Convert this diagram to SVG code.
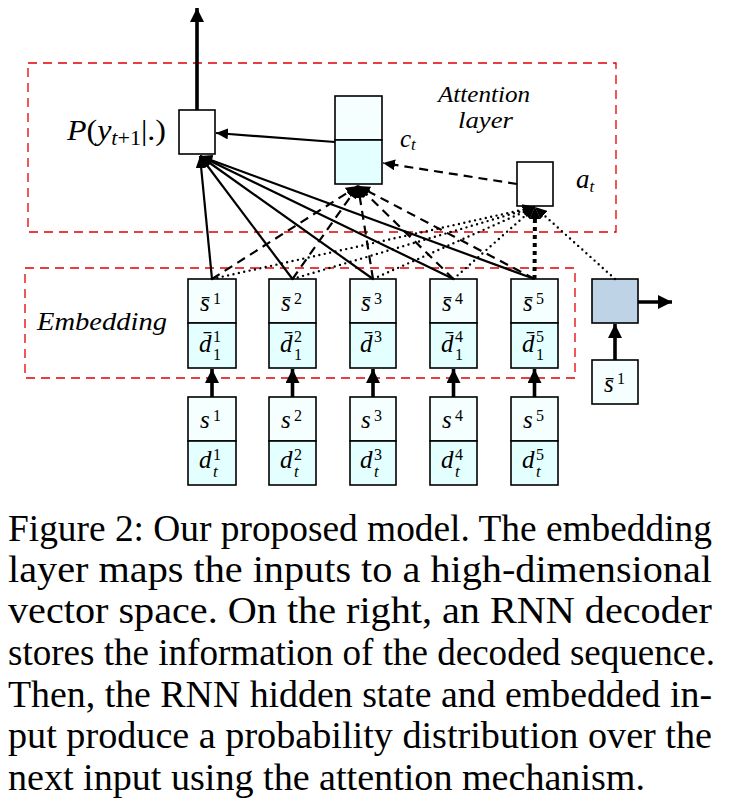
<svg xmlns="http://www.w3.org/2000/svg" width="743" height="802" viewBox="0 0 743 802">
<style>
.bg{fill:#fff}
.red{fill:none;stroke:#e00000;stroke-width:1.3;stroke-dasharray:9 6}
.top{fill:#f6ffff;stroke:#000;stroke-width:1.6}
.bot{fill:#e4ffff;stroke:#000;stroke-width:1.6}
.wht{fill:#fff;stroke:#000;stroke-width:1.6}
.dec{fill:#bfd3e6;stroke:#000;stroke-width:1.6}
.m{font-family:"Liberation Serif","DejaVu Serif",serif;font-style:italic;font-size:25px;fill:#000}
.n{font-family:"Liberation Serif","DejaVu Serif",serif;font-style:normal;font-size:16px;fill:#000}
.ns{font-family:"Liberation Serif","DejaVu Serif",serif;font-style:italic;font-size:17px;fill:#000}
.cap{font-family:"Liberation Serif","Times New Roman",serif;font-size:38px;fill:#000}
.sol{stroke:#000;stroke-width:2.2;fill:none}
.das{stroke:#000;stroke-width:2.2;fill:none;stroke-dasharray:9 6}
.dot{stroke:#000;stroke-width:2.4;fill:none;stroke-dasharray:0 5.5;stroke-linecap:round}
.thk{stroke:#000;stroke-width:3.6;fill:none}
</style>
<defs>
<marker id="ah" markerUnits="userSpaceOnUse" markerWidth="13" markerHeight="11" refX="12" refY="5.5" orient="auto"><path d="M0,0 L12,5.5 L0,11 z" fill="#000"/></marker>
<marker id="ahb" markerUnits="userSpaceOnUse" markerWidth="15" markerHeight="14" refX="14" refY="7" orient="auto"><path d="M0,0 L14,7 L0,14 z" fill="#000"/></marker>
</defs>
<rect class="bg" x="0" y="0" width="743" height="802"/>

<g id="attention-layer">
<rect class="red" x="28" y="63" width="588" height="169"/>
<text class="m" x="438" y="102" style="font-size:24px" textLength="92" lengthAdjust="spacingAndGlyphs">Attention</text>
<text class="m" x="458" y="128" style="font-size:24px" textLength="55" lengthAdjust="spacingAndGlyphs">layer</text>
</g>
<g id="embedding-layer">
<rect class="red" x="25" y="268" width="550" height="110"/>
<text class="m" x="37" y="330" style="font-size:26px" textLength="130" lengthAdjust="spacingAndGlyphs">Embedding</text>
</g>

<g id="output-P">
<rect class="wht" x="179" y="110" width="36" height="44"/>
<text class="m" x="67" y="140" style="font-size:29px" textLength="99" lengthAdjust="spacingAndGlyphs">P<tspan style="font-style:normal">(</tspan>y<tspan style="font-size:20px" dy="5">t</tspan><tspan style="font-size:20px;font-style:normal">+1</tspan><tspan dy="-5" style="font-style:normal">|.)</tspan></text>
</g>

<g id="context-ct">
<rect class="top" x="335" y="96" width="47" height="44"/>
<rect class="bot" x="335" y="140" width="47" height="44"/>
<text class="m" x="400" y="147">c<tspan class="ns" dy="3">t</tspan></text>
</g>

<g id="attention-at">
<rect class="wht" x="517" y="162" width="36" height="44"/>
<text class="m" x="576" y="188" style="font-size:27px">a<tspan class="ns" dy="4">t</tspan></text>
</g>

<g id="emb1">
<rect class="top" x="188" y="279" width="48" height="44"/><rect class="bot" x="188" y="323" width="48" height="45"/>
<text class="m" x="200" y="311">s&#x304;</text><text class="n" x="213" y="304">1</text>
<text class="m" x="199" y="352">d&#x304;</text><text class="n" x="213" y="342">1</text><text class="n" x="213" y="360">1</text>
</g>
<g id="emb2">
<rect class="top" x="269" y="279" width="47" height="44"/><rect class="bot" x="269" y="323" width="47" height="45"/>
<text class="m" x="281" y="311">s&#x304;</text><text class="n" x="294" y="304">2</text>
<text class="m" x="280" y="352">d&#x304;</text><text class="n" x="294" y="342">2</text><text class="n" x="294" y="360">1</text>
</g>
<g id="emb3">
<rect class="top" x="350" y="279" width="46" height="44"/><rect class="bot" x="350" y="323" width="46" height="45"/>
<text class="m" x="361" y="311">s&#x304;</text><text class="n" x="374" y="304">3</text>
<text class="m" x="360" y="352">d&#x304;</text><text class="n" x="374" y="342">3</text>
</g>
<g id="emb4">
<rect class="top" x="430" y="279" width="47" height="44"/><rect class="bot" x="430" y="323" width="47" height="45"/>
<text class="m" x="442" y="311">s&#x304;</text><text class="n" x="455" y="304">4</text>
<text class="m" x="441" y="352">d&#x304;</text><text class="n" x="455" y="342">4</text><text class="n" x="455" y="360">1</text>
</g>
<g id="emb5">
<rect class="top" x="511" y="279" width="47" height="44"/><rect class="bot" x="511" y="323" width="47" height="45"/>
<text class="m" x="523" y="311">s&#x304;</text><text class="n" x="536" y="304">5</text>
<text class="m" x="522" y="352">d&#x304;</text><text class="n" x="536" y="342">5</text><text class="n" x="536" y="360">1</text>
</g>

<g id="in1">
<rect class="top" x="188" y="397" width="48" height="44"/><rect class="bot" x="188" y="441" width="48" height="44"/>
<text class="m" x="200" y="428">s</text><text class="n" x="213" y="421">1</text>
<text class="m" x="199" y="468">d</text><text class="n" x="213" y="460">1</text><text class="ns" x="213" y="477">t</text>
</g>
<g id="in2">
<rect class="top" x="269" y="397" width="47" height="44"/><rect class="bot" x="269" y="441" width="47" height="44"/>
<text class="m" x="281" y="428">s</text><text class="n" x="294" y="421">2</text>
<text class="m" x="280" y="468">d</text><text class="n" x="294" y="460">2</text><text class="ns" x="294" y="477">t</text>
</g>
<g id="in3">
<rect class="top" x="350" y="397" width="46" height="44"/><rect class="bot" x="350" y="441" width="46" height="44"/>
<text class="m" x="361" y="428">s</text><text class="n" x="374" y="421">3</text>
<text class="m" x="360" y="468">d</text><text class="n" x="374" y="460">3</text><text class="ns" x="374" y="477">t</text>
</g>
<g id="in4">
<rect class="top" x="430" y="397" width="47" height="44"/><rect class="bot" x="430" y="441" width="47" height="44"/>
<text class="m" x="442" y="428">s</text><text class="n" x="455" y="421">4</text>
<text class="m" x="441" y="468">d</text><text class="n" x="455" y="460">4</text><text class="ns" x="455" y="477">t</text>
</g>
<g id="in5">
<rect class="top" x="511" y="397" width="47" height="44"/><rect class="bot" x="511" y="441" width="47" height="44"/>
<text class="m" x="523" y="428">s</text><text class="n" x="536" y="421">5</text>
<text class="m" x="522" y="468">d</text><text class="n" x="536" y="460">5</text><text class="ns" x="536" y="477">t</text>
</g>

<g id="decoder">
<rect class="dec" x="592" y="279" width="46" height="44"/>
</g>
<g id="decoder-input">
<rect class="top" x="592" y="360" width="46" height="44"/>
<text class="m" x="604" y="392">s&#x304;</text><text class="n" x="617" y="384">1</text>
</g>

<g id="connectors">
<line class="thk" x1="197" y1="110" x2="197" y2="8" marker-end="url(#ahb)"/>
<line class="sol" x1="335" y1="142" x2="216" y2="133" marker-end="url(#ah)"/>
<line class="das" x1="517" y1="184" x2="383" y2="163" marker-end="url(#ah)"/>
<line class="sol" x1="212" y1="279" x2="200" y2="156" marker-end="url(#ah)"/>
<line class="sol" x1="292.5" y1="279" x2="200" y2="156" marker-end="url(#ah)"/>
<line class="sol" x1="373" y1="279" x2="200" y2="156" marker-end="url(#ah)"/>
<line class="sol" x1="453.5" y1="279" x2="200" y2="156" marker-end="url(#ah)"/>
<line class="sol" x1="534.5" y1="279" x2="200" y2="156" marker-end="url(#ah)"/>
<line class="das" x1="212" y1="279" x2="358" y2="186" marker-end="url(#ah)"/>
<line class="das" x1="292.5" y1="279" x2="358" y2="186" marker-end="url(#ah)"/>
<line class="das" x1="373" y1="279" x2="358" y2="186" marker-end="url(#ah)"/>
<line class="das" x1="453.5" y1="279" x2="358" y2="186" marker-end="url(#ah)"/>
<line class="das" x1="534.5" y1="279" x2="358" y2="186" marker-end="url(#ah)"/>
<line class="dot" x1="212" y1="279" x2="535" y2="207" marker-end="url(#ah)"/>
<line class="dot" x1="292.5" y1="279" x2="535" y2="207" marker-end="url(#ah)"/>
<line class="dot" x1="373" y1="279" x2="535" y2="207" marker-end="url(#ah)"/>
<line class="dot" x1="453.5" y1="279" x2="535" y2="207" marker-end="url(#ah)"/>
<line x1="534.5" y1="279" x2="535" y2="207" stroke="#000" stroke-width="4" stroke-dasharray="4 4" marker-end="url(#ah)"/>
<line class="dot" x1="615" y1="279" x2="535" y2="207" marker-end="url(#ah)"/>
<line class="thk" x1="212" y1="397" x2="212" y2="369" marker-end="url(#ahb)"/>
<line class="thk" x1="292.5" y1="397" x2="292.5" y2="369" marker-end="url(#ahb)"/>
<line class="thk" x1="373" y1="397" x2="373" y2="369" marker-end="url(#ahb)"/>
<line class="thk" x1="453.5" y1="397" x2="453.5" y2="369" marker-end="url(#ahb)"/>
<line class="thk" x1="534.5" y1="397" x2="534.5" y2="369" marker-end="url(#ahb)"/>
<line class="thk" x1="615" y1="360" x2="615" y2="324" marker-end="url(#ahb)"/>
<line class="thk" x1="638" y1="302" x2="672" y2="302" marker-end="url(#ahb)"/>
</g>

<g id="caption">
<text class="cap" x="8" y="541" textLength="704" lengthAdjust="spacingAndGlyphs">Figure 2: Our proposed model. The embedding</text>
<text class="cap" x="8" y="582" textLength="704" lengthAdjust="spacingAndGlyphs">layer maps the inputs to a high-dimensional</text>
<text class="cap" x="8" y="623" textLength="704" lengthAdjust="spacingAndGlyphs">vector space.  On the right, an RNN decoder</text>
<text class="cap" x="8" y="665" textLength="707" lengthAdjust="spacingAndGlyphs">stores the information of the decoded sequence.</text>
<text class="cap" x="8" y="707" textLength="704" lengthAdjust="spacingAndGlyphs">Then, the RNN hidden state and embedded in-</text>
<text class="cap" x="8" y="748" textLength="704" lengthAdjust="spacingAndGlyphs">put produce a probability distribution over the</text>
<text class="cap" x="8" y="790" textLength="637" lengthAdjust="spacingAndGlyphs">next input using the attention mechanism.</text>
</g>
</svg>
